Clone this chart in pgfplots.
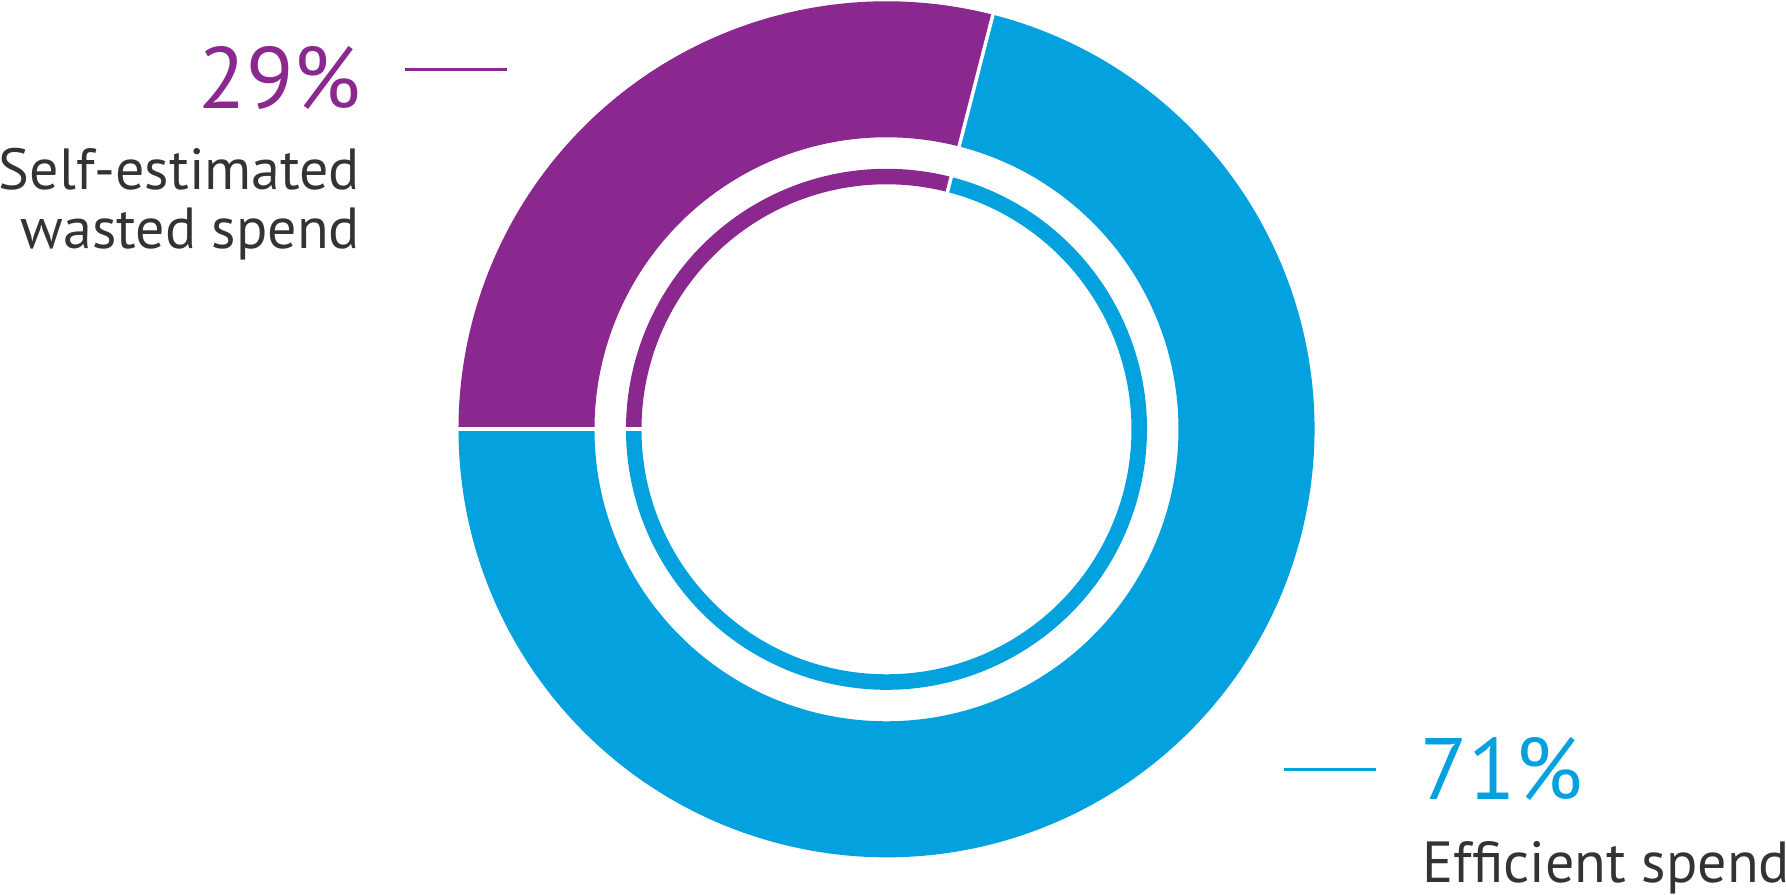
\documentclass[border=0pt]{standalone}
\usepackage{pgfplots}
\pgfplotsset{compat=1.18}
\usepackage{pgfplotstable}
\usepackage{fontspec}
\setmainfont{PT Sans}
\definecolor{cPurple}{HTML}{8B288F}
\definecolor{cBlue}{HTML}{03A2DF}
\definecolor{cText}{HTML}{333333}
\pgfplotstableread{
label value
wasted 29
efficient 71
}\sharetable
\begin{document}
\begin{tikzpicture}
\pgfplotstablegetelem{0}{value}\of\sharetable
\pgfmathsetmacro{\aSplit}{180-3.6*\pgfplotsretval}
\begin{axis}[x=0.01cm, y=0.01cm, xmin=0, xmax=1786, ymin=0, ymax=894,
  hide axis, clip=false, at={(0,0)}, anchor=south west]
% outer ring
\fill[cPurple] (axis cs:887,465) ++(\aSplit:4.28cm) arc[start angle=\aSplit, end angle=180, radius=4.28cm]
  -- ++(0:1.36cm) arc[start angle=180, end angle=\aSplit, radius=2.92cm] -- cycle;
\fill[cBlue] (axis cs:887,465) ++(\aSplit:4.28cm) arc[start angle=\aSplit, end angle=-180, radius=4.28cm]
  -- ++(0:1.36cm) arc[start angle=-180, end angle=\aSplit, radius=2.92cm] -- cycle;
% inner thin ring
\fill[cPurple] (axis cs:887,465) ++(\aSplit:2.605cm) arc[start angle=\aSplit, end angle=180, radius=2.605cm]
  -- ++(0:0.155cm) arc[start angle=180, end angle=\aSplit, radius=2.45cm] -- cycle;
\fill[cBlue] (axis cs:887,465) ++(\aSplit:2.605cm) arc[start angle=\aSplit, end angle=-180, radius=2.605cm]
  -- ++(0:0.155cm) arc[start angle=-180, end angle=\aSplit, radius=2.45cm] -- cycle;
% separators
\draw[white, line width=0.04cm] (axis cs:887,465) -- ++(180:4.4cm);
\draw[white, line width=0.035cm] (axis cs:887,465) -- ++(\aSplit:4.4cm);
% labels
\draw[cPurple, line width=0.03cm] (axis cs:405,825) -- (axis cs:507,825);
\node[anchor=base east, inner sep=0pt, text=cPurple, font=\fontsize{24.8}{24}\selectfont] at (axis cs:362,786) {29\%};
\node[anchor=base east, inner sep=0pt, text=cText, font=\fontsize{16.5}{20}\selectfont] at (axis cs:361,705) {Self-estimated};
\node[anchor=base east, inner sep=0pt, text=cText, font=\fontsize{16.5}{20}\selectfont] at (axis cs:361,646) {wasted spend};
\draw[cBlue, line width=0.03cm] (axis cs:1285,125) -- (axis cs:1377,125);
\node[anchor=base west, inner sep=0pt, text=cBlue, font=\fontsize{24.8}{24}\selectfont] at (axis cs:1421,95) {71\%};
\node[anchor=base west, inner sep=0pt, text=cText, font=\fontsize{16.5}{20}\selectfont] at (axis cs:1423,12) {Efficient spend};
\end{axis}
\pgfresetboundingbox
\useasboundingbox (0,0) rectangle (17.86,8.94);
\end{tikzpicture}
\end{document}
